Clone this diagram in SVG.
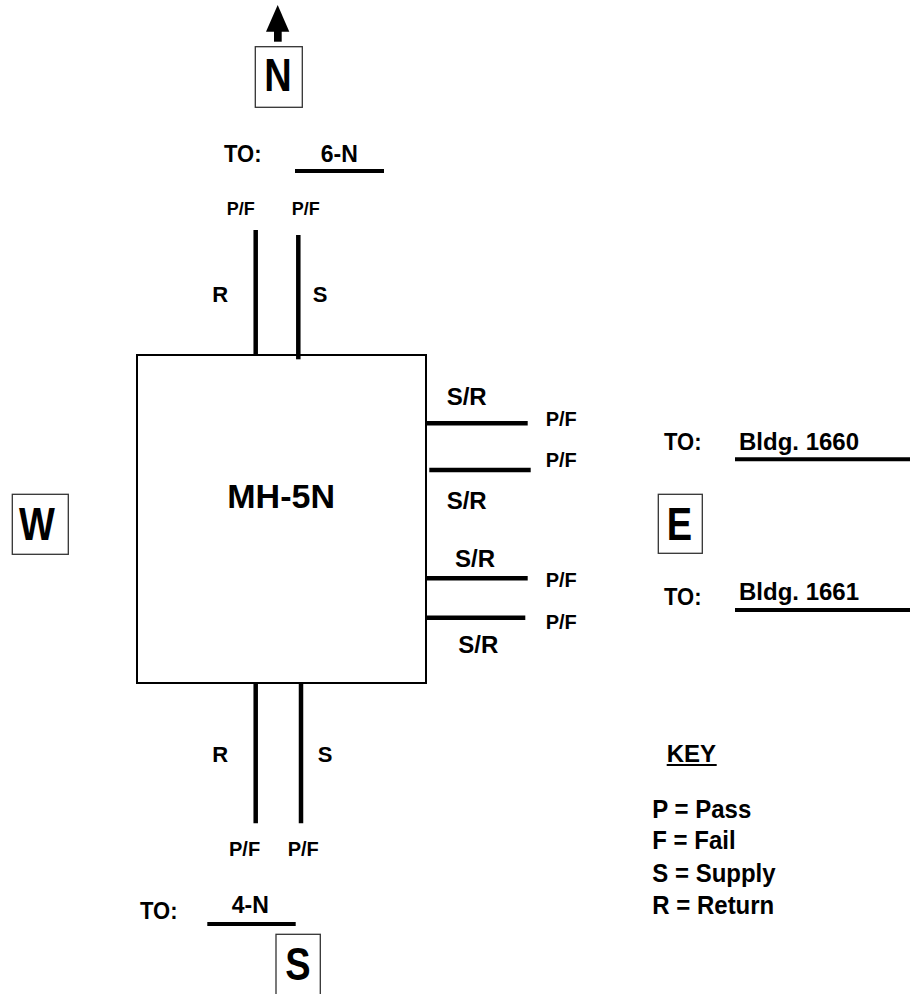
<svg xmlns="http://www.w3.org/2000/svg" width="910" height="994" viewBox="0 0 910 994">
<style>
text{font-family:"Liberation Sans",Arial,sans-serif;font-weight:bold;fill:#000}
.pf{font-size:20px}
.pft{font-size:18px}
.lbl{font-size:22px}
.sr{font-size:24px}
.big{font-size:38px;text-anchor:middle}
.pipe{stroke:#000;stroke-width:4.5;fill:none}
.ul{stroke:#000;stroke-width:4;fill:none}
.cbox{fill:#fff;stroke:#333;stroke-width:1.3}
</style>
<rect width="910" height="994" fill="#fff"/>
<g id="compass-N">
<polygon points="277.7,5 266,31.7 289.3,31.7" fill="#000"/>
<rect x="274" y="31" width="7.7" height="10.7" fill="#000"/>
<rect class="cbox" x="255.3" y="46.7" width="47" height="60.6"/>
<text class="big" transform="translate(278,90.7) scale(1,1.22)">N</text>
</g>
<g id="compass-W">
<rect class="cbox" x="12.3" y="494.3" width="56" height="60"/>
<text class="big" transform="translate(37,540) scale(1,1.22)">W</text>
</g>
<g id="compass-E">
<rect class="cbox" x="658.3" y="494.3" width="44" height="59"/>
<text class="big" transform="translate(679.5,540) scale(1,1.22)">E</text>
</g>
<g id="compass-S">
<rect class="cbox" x="276" y="934.3" width="44.3" height="70"/>
<text class="big" transform="translate(297.8,980) scale(1,1.22)">S</text>
</g>
<g id="MH-5N">
<rect x="137" y="355" width="289" height="328" fill="#fff" stroke="#000" stroke-width="2"/>
<text x="227.3" y="508.3" style="font-size:34px">MH-5N</text>
</g>
<g id="to-6N">
<text class="lbl" transform="translate(224,162) scale(1,1.1)">TO:</text>
<text x="320.7" y="162" style="font-size:23px">6-N</text>
<line class="ul" x1="295" y1="171" x2="384" y2="171"/>
</g>
<g id="to-4N">
<text class="lbl" transform="translate(140,919) scale(1,1.1)">TO:</text>
<text x="231.7" y="913.3" style="font-size:23px">4-N</text>
<line class="ul" x1="207.3" y1="924" x2="295.7" y2="924"/>
</g>
<g id="to-1660">
<text class="lbl" transform="translate(664,450) scale(1,1.1)">TO:</text>
<text class="sr" x="739" y="450">Bldg. 1660</text>
<line class="ul" x1="735" y1="459.3" x2="910" y2="459.3"/>
</g>
<g id="to-1661">
<text class="lbl" transform="translate(664,605) scale(1,1.1)">TO:</text>
<text class="sr" x="739" y="600">Bldg. 1661</text>
<line class="ul" x1="735" y1="610" x2="910" y2="610"/>
</g>
<g id="key">
<text class="sr" x="666.7" y="761.7">KEY</text>
<line x1="666.7" y1="765" x2="716.7" y2="765" stroke="#000" stroke-width="2"/>
<text class="sr" transform="translate(652.3,817.7) scale(1,1.1)">P = Pass</text>
<text class="sr" transform="translate(652.3,849.3) scale(1,1.1)">F = Fail</text>
<text class="sr" transform="translate(652.3,881.7) scale(1,1.1)">S = Supply</text>
<text class="sr" transform="translate(652.3,914.3) scale(1,1.1)">R = Return</text>
</g>
<g id="connectors">
<line class="pipe" x1="255.7" y1="230" x2="255.7" y2="355"/>
<line class="pipe" x1="298.3" y1="235" x2="298.3" y2="359.3"/>
<line class="pipe" x1="255.7" y1="683" x2="255.7" y2="823.3"/>
<line class="pipe" x1="301" y1="683" x2="301" y2="823.3"/>
<line class="pipe" stroke-width="5" x1="426" y1="423.3" x2="527.7" y2="423.3"/>
<line class="pipe" stroke-width="5" x1="429.3" y1="470" x2="530.7" y2="470"/>
<line class="pipe" stroke-width="5" x1="426" y1="578.3" x2="527.7" y2="578.3"/>
<line class="pipe" stroke-width="5" x1="426" y1="617.7" x2="525.3" y2="617.7"/>
</g>
<g id="connector-labels">
<text class="pft" x="226.7" y="215">P/F</text>
<text class="pft" x="291.7" y="215">P/F</text>
<text class="lbl" x="212.3" y="301.7">R</text>
<text class="lbl" x="312.7" y="302">S</text>
<text class="lbl" x="212.3" y="761.7">R</text>
<text class="lbl" x="317.7" y="762">S</text>
<text class="pf" x="229" y="855.7">P/F</text>
<text class="pf" x="287.7" y="855.7">P/F</text>
<text class="sr" x="446.7" y="405">S/R</text>
<text class="sr" x="446.7" y="509">S/R</text>
<text class="sr" x="455" y="566.7">S/R</text>
<text class="sr" x="458.3" y="653.3">S/R</text>
<text class="pf" x="545.7" y="425.7">P/F</text>
<text class="pf" x="545.7" y="466.7">P/F</text>
<text class="pf" x="545.7" y="586.7">P/F</text>
<text class="pf" x="545.7" y="629.3">P/F</text>
</g>
</svg>
